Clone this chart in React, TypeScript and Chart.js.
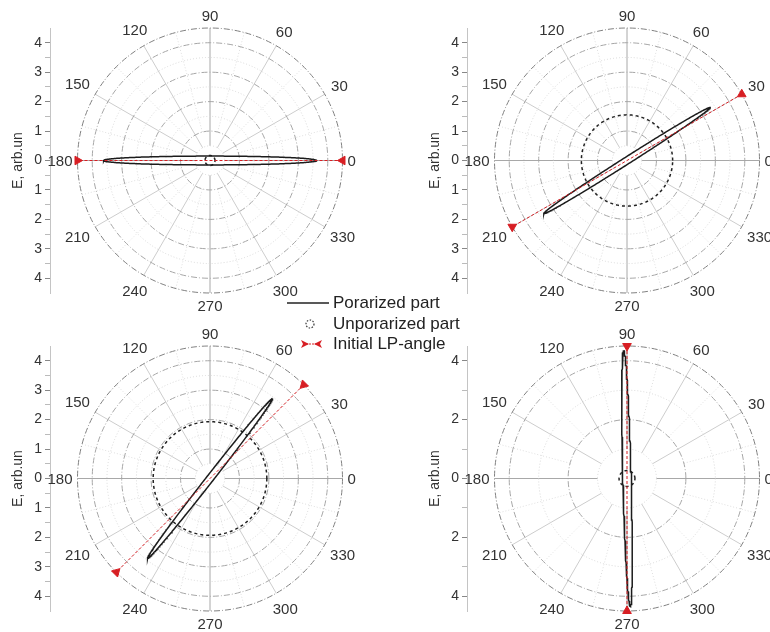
import React, { useEffect, useRef } from "react";
import { Chart, registerables } from "chart.js";
Chart.register(...registerables);

// ---- data ----
const angleLabels = [0, 30, 60, 90, 120, 150, 180, 210, 240, 270, 300, 330];
const lpAngle = [0, 30, 45, 90]; // initial LP-angle per panel (deg)
const ellipseSemiMajor = [3.62, 3.35, 3.45, 4.35];
const ellipseSemiMinor = [0.15, 0.12, 0.12, 0.14];
const ellipseTilt = [0, 32.5, 52, 91.5];
const unpolarizedRadius = [0.17, 1.55, 1.93, 0.27];
const radialStep = [0.5, 0.5, 0.5, 1]; // minor grid step
const labelStep = [1, 1, 1, 2]; // major grid / tick label step
const axisTicksP1 = [-4, -3.5, -3, -2.5, -2, -1.5, -1, -0.5, 0, 0.5, 1, 1.5, 2, 2.5, 3, 3.5, 4];
const axisTicksP4 = [-4, -3, -2, -1, 0, 1, 2, 3, 4];
const axisTicks = [axisTicksP1, axisTicksP1, axisTicksP1, axisTicksP4];
const rMax = 4.5;
const axisTitle = "E, arb.un";
const legendLabels = ["Porarized part", "Unporarized part", "Initial LP-angle"];

// ---- layout constants ----
const CW = 385;
const CH = 316;
const PAD_TOP = 28;
const PAD_BOTTOM = 23;
const PAD_RIGHT = 25;
const AXIS_W = 50;
const CENTER_OFF = 160; // px from y-axis line to polar centre
const PPU = (CH - PAD_TOP - PAD_BOTTOM) / (2 * rMax);
const X_MIN = -CENTER_OFF / PPU;
const X_MAX = (CW - PAD_RIGHT - AXIS_W - CENTER_OFF) / PPU;
const FONT = '"Liberation Sans", Arial, sans-serif';
const panelPos = [
  { left: 0, top: 0 },
  { left: 417, top: 0 },
  { left: 0, top: 318 },
  { left: 417, top: 318 },
];

const N = 360;
function ellipsePoints(a: number, b: number, tiltDeg: number) {
  const pts: { x: number; y: number }[] = [];
  const p = (tiltDeg * Math.PI) / 180;
  for (let i = 0; i <= N; i++) {
    const t = (2 * Math.PI * i) / N;
    const u = a * Math.cos(t);
    const v = b * Math.sin(t);
    pts.push({ x: u * Math.cos(p) - v * Math.sin(p), y: u * Math.sin(p) + v * Math.cos(p) });
  }
  return pts;
}

const isMultiple = (v: number, s: number) => Math.abs(v / s - Math.round(v / s)) < 1e-6;

const polarGrid = {
  id: "polarGrid",
  beforeDatasetsDraw(chart: any, _args: any, opts: any) {
    const { ctx } = chart;
    const x = chart.scales.x;
    const y = chart.scales.y;
    const cx = x.getPixelForValue(0);
    const cy = y.getPixelForValue(0);
    const ppu = x.getPixelForValue(1) - cx;
    const minor = opts.minor;
    const major = opts.major;
    ctx.save();
    // radial lines
    for (let a = 0; a < 360; a += 15) {
      const rad = (a * Math.PI) / 180;
      let r0 = minor;
      ctx.lineWidth = 1;
      if (a % 90 === 0) {
        ctx.strokeStyle = "#a8a8a8";
        ctx.setLineDash([]);
      } else if (a % 30 === 0) {
        ctx.strokeStyle = "#cdcdcd";
        ctx.setLineDash([]);
      } else {
        ctx.strokeStyle = "#dedede";
        ctx.setLineDash([1, 2]);
        r0 = 2 * minor;
      }
      ctx.beginPath();
      ctx.moveTo(cx + r0 * ppu * Math.cos(rad), cy - r0 * ppu * Math.sin(rad));
      ctx.lineTo(cx + rMax * ppu * Math.cos(rad), cy - rMax * ppu * Math.sin(rad));
      ctx.stroke();
    }
    // circles
    for (let r = minor; r < rMax - 1e-6; r += minor) {
      const maj = isMultiple(r, major);
      ctx.setLineDash(maj ? [6, 2, 1, 2] : [1, 2]);
      ctx.strokeStyle = maj ? "#a6a6a6" : "#d8d8d8";
      ctx.lineWidth = 1;
      ctx.beginPath();
      ctx.arc(cx, cy, r * ppu, 0, Math.PI * 2);
      ctx.stroke();
    }
    ctx.setLineDash([6, 2, 1, 2]);
    ctx.strokeStyle = "#808080";
    ctx.beginPath();
    ctx.arc(cx, cy, rMax * ppu, 0, Math.PI * 2);
    ctx.stroke();
    ctx.restore();
  },
  afterDraw(chart: any) {
    const { ctx } = chart;
    const x = chart.scales.x;
    const y = chart.scales.y;
    const cx = x.getPixelForValue(0);
    const cy = y.getPixelForValue(0);
    const ppu = x.getPixelForValue(1) - cx;
    ctx.save();
    ctx.font = `15px ${FONT}`;
    ctx.fillStyle = "#333";
    ctx.textAlign = "center";
    ctx.textBaseline = "middle";
    const h = 11;
    for (const a of angleLabels) {
      const rad = (a * Math.PI) / 180;
      const txt = String(a);
      const w = ctx.measureText(txt).width;
      const c = Math.cos(rad);
      const s = Math.sin(rad);
      const half = (Math.abs(c) * w) / 2 + (Math.abs(s) * h) / 2;
      const gap = Math.abs(s) < 0.01 ? 5 : 7;
      const d = rMax * ppu + gap + half;
      ctx.fillText(txt, cx + d * c, cy - d * s + 1);
    }
    ctx.restore();
  },
};

function buildConfig(i: number): any {
  const phi = lpAngle[i];
  const rad = (phi * Math.PI) / 180;
  const lpData = [
    { x: rMax * Math.cos(rad), y: rMax * Math.sin(rad) },
    { x: -rMax * Math.cos(rad), y: -rMax * Math.sin(rad) },
  ];
  const lpRot = [-90 - phi, -270 - phi];
  return {
    type: "scatter",
    data: {
      datasets: [
        {
          label: legendLabels[2],
          data: lpData,
          showLine: true,
          borderColor: "rgb(215,30,35)",
          borderWidth: 1,
          borderDash: [3, 2],
          pointStyle: "triangle",
          pointRadius: 5,
          pointRotation: lpRot,
          pointBackgroundColor: "rgb(215,30,35)",
          pointBorderColor: "rgb(215,30,35)",
          pointBorderWidth: 1,
          clip: false,
        },
        {
          label: legendLabels[0],
          data: ellipsePoints(ellipseSemiMajor[i], ellipseSemiMinor[i], ellipseTilt[i]),
          showLine: true,
          borderColor: "#1c1c1c",
          borderWidth: 1.5,
          pointRadius: 0,
          tension: 0,
          clip: false,
        },
        {
          label: legendLabels[1],
          data: ellipsePoints(unpolarizedRadius[i], unpolarizedRadius[i], 0),
          showLine: true,
          borderColor: "#222",
          borderWidth: 1.5,
          borderDash: [3, 3],
          pointRadius: 0,
          clip: false,
        },
      ],
    },
    options: {
      animation: false,
      responsive: false,
      maintainAspectRatio: false,
      events: [],
      layout: { padding: { left: 0, top: PAD_TOP, bottom: PAD_BOTTOM, right: PAD_RIGHT } },
      plugins: {
        legend: { display: false },
        tooltip: { enabled: false },
        polarGrid: { minor: radialStep[i], major: labelStep[i] },
      },
      scales: {
        x: { type: "linear", display: false, min: X_MIN, max: X_MAX },
        y: {
          type: "linear",
          position: "left",
          min: -rMax,
          max: rMax,
          afterFit(s: any) {
            s.width = AXIS_W;
          },
          afterBuildTicks(s: any) {
            s.ticks = axisTicks[i].map((v) => ({ value: v }));
          },
          ticks: {
            autoSkip: false,
            maxRotation: 0,
            padding: 3,
            color: "#333",
            font: { family: FONT, size: 14 },
            callback: (v: any) => {
              const n = Number(v);
              return isMultiple(n, labelStep[i]) ? String(Math.abs(n)) : "";
            },
          },
          grid: {
            drawOnChartArea: false,
            drawTicks: true,
            tickLength: 5,
            tickColor: (c: any) => {
              const v = c.tick ? c.tick.value : 0;
              return isMultiple(v, labelStep[i]) ? "#888" : "#bbb";
            },
          },
          border: { color: "#c4c4c4", width: 1 },
          title: {
            display: true,
            text: axisTitle,
            color: "#333",
            font: { family: FONT, size: 14 },
            padding: { top: 10, bottom: 0 },
          },
        },
      },
    },
    plugins: [polarGrid],
  };
}

export default function App() {
  const refs = [useRef<HTMLCanvasElement>(null), useRef<HTMLCanvasElement>(null), useRef<HTMLCanvasElement>(null), useRef<HTMLCanvasElement>(null)];
  useEffect(() => {
    const charts = refs.map((r, i) => new Chart(r.current as HTMLCanvasElement, buildConfig(i)));
    return () => charts.forEach((c) => c.destroy());
  }, []);

  return (
    <div style={{ position: "fixed", left: 0, top: 0, width: 770, height: 632, overflow: "hidden", background: "#fff" }}>
      {panelPos.map((p, i) => (
        <canvas
          key={i}
          ref={refs[i]}
          width={CW}
          height={CH}
          style={{ position: "absolute", left: p.left, top: p.top, width: CW, height: CH, display: "block" }}
        />
      ))}
      <div style={{ position: "absolute", left: 287, top: 292, zIndex: 2, font: `17px ${FONT}`, color: "#222" }}>
        <div style={{ display: "flex", alignItems: "center", height: 21 }}>
          <svg width={46} height={20}>
            <line x1={0} y1={10} x2={42} y2={10} stroke="#222" strokeWidth={1.5} />
          </svg>
          <span>{legendLabels[0]}</span>
        </div>
        <div style={{ display: "flex", alignItems: "center", height: 21 }}>
          <svg width={46} height={20}>
            <circle cx={23} cy={10} r={4} fill="none" stroke="#333" strokeWidth={1.2} strokeDasharray="1.5 1.5" />
          </svg>
          <span>{legendLabels[1]}</span>
        </div>
        <div style={{ display: "flex", alignItems: "center", height: 20 }}>
          <svg width={46} height={20}>
            <line x1={16} y1={10} x2={33} y2={10} stroke="rgb(215,30,35)" strokeWidth={1} strokeDasharray="2 1" />
            <polygon points="14,6 22,10 14,14 16,10" fill="rgb(215,30,35)" />
            <polygon points="35,6 27,10 35,14 33,10" fill="rgb(215,30,35)" />
          </svg>
          <span>{legendLabels[2]}</span>
        </div>
      </div>
    </div>
  );
}
